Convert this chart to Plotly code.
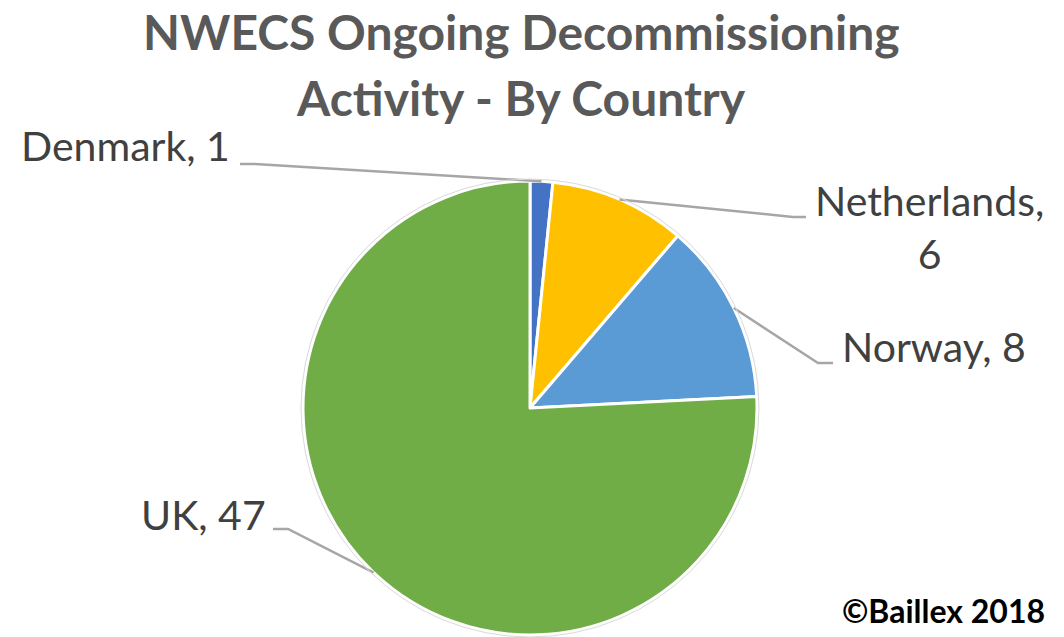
import math
import plotly.graph_objects as go

countries = ["Denmark", "Netherlands", "Norway", "UK"]
values = [1, 6, 8, 47]
colors = ["#4472C4", "#FFC000", "#5B9BD5", "#70AD47"]
title_lines = ["NWECS Ongoing Decommissioning", "Activity - By Country"]
credit = "©Baillex 2018"

W, H = 1064, 637
CX, CY, R = 530, 408, 227  # pie centre / radius in pixels

def px(x):
    return x / W

def py(y):
    return 1 - y / H

FONT = "Lato, Carlito, Calibri, 'Open Sans', sans-serif"

fig = go.Figure(go.Pie(
    labels=countries, values=values, sort=False, direction="clockwise", rotation=0,
    marker=dict(colors=colors, line=dict(color="white", width=3)),
    textinfo="none", hoverinfo="label+value", showlegend=False,
    domain=dict(x=[px(CX - R), px(CX + R)], y=[py(CY + R), py(CY - R)]),
))

# label layout: (anchor x, anchor y, xanchor, elbow x, elbow y, end x)
label_layout = {
    "Denmark": (232, 146, "right", 255, 164, 240),
    "Netherlands": (929, 227, "center", 793, 217, 806),
    "Norway": (840, 346, "left", 818, 363, 833),
    "UK": (268, 514, "right", 288, 529, 273),
}

shapes = []
annotations = []
total = sum(values)
cum = 0
for name, v in zip(countries, values):
    mid = (cum + v / 2) / total * 2 * math.pi
    cum += v
    sx = CX + R * math.sin(mid)
    sy = CY - R * math.cos(mid)
    tx, ty, xa, ex, ey, endx = label_layout[name]
    path = f"M {px(sx)} {py(sy)} L {px(ex)} {py(ey)} L {px(endx)} {py(ey)}"
    shapes.append(dict(type="path", xref="paper", yref="paper", path=path,
                       line=dict(color="#A6A6A6", width=2.5)))
    text = f"{name}, {v}" if name != "Netherlands" else f"{name},<br>{v}"
    annotations.append(dict(text=text, x=px(tx), y=py(ty), xref="paper", yref="paper",
                            xanchor=xa, yanchor="middle", showarrow=False, align="center",
                            font=dict(family=FONT, size=41, color="#404040")))

# thin outline around the pie
shapes.append(dict(type="circle", xref="paper", yref="paper",
                   x0=px(CX - R - 2), x1=px(CX + R + 2), y0=py(CY + R + 2), y1=py(CY - R - 2),
                   line=dict(color="#D9D9D9", width=1)))

for line, yy in zip(title_lines, [32, 97]):
    annotations.append(dict(text=f"<b>{line}</b>", x=px(521), y=py(yy), xref="paper", yref="paper",
                            xanchor="center", yanchor="middle", showarrow=False,
                            font=dict(family=FONT, size=48, color="#595959")))

annotations.append(dict(text=f"<b>{credit}</b>", x=px(1047), y=py(610), xref="paper", yref="paper",
                        xanchor="right", yanchor="middle", showarrow=False,
                        font=dict(family=FONT, size=32, color="#000000")))

fig.update_layout(width=W, height=H, margin=dict(l=0, r=0, t=0, b=0),
                  paper_bgcolor="white", plot_bgcolor="white",
                  shapes=shapes, annotations=annotations)

fig.write_html("out.html", config={"displayModeBar": False},
               post_script="document.body.style.margin='0';")
